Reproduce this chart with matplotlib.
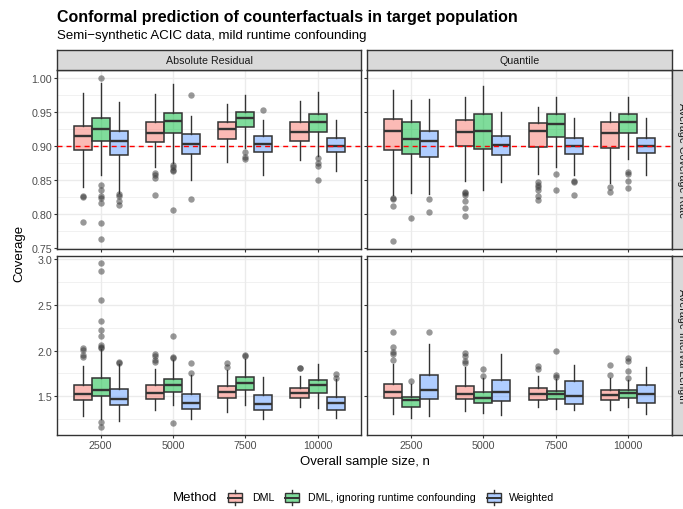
import matplotlib
matplotlib.use('Agg')
import matplotlib.pyplot as plt
from matplotlib.patches import Rectangle
from matplotlib.lines import Line2D

plt.rcParams['font.family'] = ['Liberation Sans', 'DejaVu Sans']

sizes = ['2500', '5000', '7500', '10000']
methods = ['DML', 'DML, ignoring runtime confounding', 'Weighted']
colors = ['#F8766D', '#00BA38', '#619CFF']

# each tuple: (whisker low, q1, median, q3, whisker high), one per sample size
ar_cov_dml = [(0.840, 0.894, 0.915, 0.930, 0.978), (0.869, 0.906, 0.919, 0.936, 0.977),
              (0.877, 0.910, 0.925, 0.936, 0.962), (0.880, 0.907, 0.921, 0.935, 0.966)]
ar_cov_dml_out = [[0.827, 0.826, 0.789], [0.860, 0.858, 0.853, 0.828], [], []]
ar_cov_ign = [(0.857, 0.907, 0.925, 0.942, 0.993), (0.876, 0.919, 0.937, 0.949, 0.991),
              (0.897, 0.928, 0.941, 0.951, 0.975), (0.886, 0.921, 0.936, 0.947, 0.980)]
ar_cov_ign_out = [[1.0, 0.843, 0.836, 0.827, 0.824, 0.817, 0.787, 0.763],
                  [0.872, 0.870, 0.865, 0.863, 0.806], [0.892, 0.884, 0.881],
                  [0.883, 0.875, 0.871, 0.851]]
ar_cov_wt = [(0.832, 0.887, 0.908, 0.923, 0.965), (0.851, 0.888, 0.904, 0.918, 0.944),
             (0.857, 0.892, 0.903, 0.915, 0.938), (0.863, 0.891, 0.901, 0.912, 0.939)]
ar_cov_wt_out = [[0.830, 0.827, 0.820, 0.813], [0.975, 0.822], [0.953], []]

q_cov_dml = [(0.828, 0.894, 0.923, 0.940, 0.983), (0.849, 0.900, 0.921, 0.938, 0.973),
             (0.859, 0.899, 0.923, 0.934, 0.957), (0.846, 0.898, 0.919, 0.936, 0.951)]
q_cov_dml_out = [[0.824, 0.822, 0.812, 0.761], [0.833, 0.831, 0.829, 0.820, 0.809, 0.798],
                 [0.847, 0.843, 0.840, 0.836, 0.827, 0.821], [0.840, 0.833]]
q_cov_ign = [(0.832, 0.889, 0.911, 0.935, 0.968), (0.836, 0.896, 0.923, 0.947, 0.989),
             (0.869, 0.913, 0.932, 0.948, 0.972), (0.881, 0.919, 0.935, 0.948, 0.973)]
q_cov_ign_out = [[0.795], [], [0.859, 0.836], [0.862, 0.859, 0.849, 0.838]]
q_cov_wt = [(0.830, 0.884, 0.907, 0.923, 0.969), (0.848, 0.887, 0.902, 0.915, 0.951),
            (0.857, 0.888, 0.901, 0.912, 0.941), (0.858, 0.890, 0.900, 0.912, 0.942)]
q_cov_wt_out = [[0.822, 0.803], [], [0.849, 0.847, 0.828], []]

ar_len_dml = [(1.282, 1.456, 1.529, 1.627, 1.830), (1.355, 1.467, 1.536, 1.627, 1.801),
              (1.336, 1.482, 1.547, 1.612, 1.783), (1.384, 1.485, 1.536, 1.591, 1.718)]
ar_len_dml_out = [[2.030, 2.008, 1.947, 1.928], [1.965, 1.939, 1.899, 1.874],
                  [1.867, 1.819], [1.809, 1.805]]
ar_len_ign = [(1.256, 1.500, 1.565, 1.700, 2.019), (1.402, 1.547, 1.620, 1.692, 1.900),
              (1.402, 1.565, 1.645, 1.711, 1.910), (1.373, 1.536, 1.620, 1.681, 1.856)]
ar_len_ign_out = [[2.949, 2.866, 2.553, 2.324, 2.219, 2.157, 2.056, 2.037, 2.027, 1.220, 1.166],
                  [2.157, 1.928, 1.920, 1.213], [1.947, 1.940], []]
ar_len_wt = [(1.231, 1.402, 1.474, 1.583, 1.850), (1.249, 1.365, 1.427, 1.522, 1.729),
             (1.249, 1.347, 1.413, 1.511, 1.710), (1.264, 1.355, 1.427, 1.493, 1.690)]
ar_len_wt_out = [[1.874, 1.866], [1.867, 1.754], [], [1.747, 1.700]]

q_len_dml = [(1.304, 1.485, 1.547, 1.634, 1.850), (1.340, 1.467, 1.522, 1.612, 1.819),
             (1.384, 1.456, 1.522, 1.591, 1.720), (1.355, 1.463, 1.511, 1.565, 1.700)]
q_len_dml_out = [[2.201, 2.037, 1.983, 1.965, 1.892], [1.976, 1.939, 1.881, 1.867],
                 [1.830, 1.794], [1.838, 1.736]]
q_len_ign = [(1.264, 1.384, 1.456, 1.493, 1.640), (1.322, 1.431, 1.485, 1.547, 1.700),
             (1.358, 1.474, 1.522, 1.554, 1.690), (1.384, 1.485, 1.536, 1.565, 1.680)]
q_len_ign_out = [[1.663], [1.794, 1.721], [1.990, 1.729, 1.711], [1.918, 1.881, 1.772, 1.703]]
q_len_wt = [(1.285, 1.474, 1.565, 1.729, 2.074), (1.293, 1.449, 1.547, 1.681, 1.965),
            (1.355, 1.413, 1.500, 1.663, 1.845), (1.311, 1.431, 1.522, 1.630, 1.819)]
q_len_wt_out = [[2.201], [], [], []]

col_labels = ['Absolute Residual', 'Quantile']
row_labels = ['Average Coverage Rate', 'Average Interval Length']
target_coverage = 0.9

W, H = 683, 510
fig = plt.figure(figsize=(W / 100, H / 100), dpi=100)


def px(x0, y0, x1, y1):
    return [x0 / W, 1 - y1 / H, (x1 - x0) / W, (y1 - y0) / H]


def stats(boxes, outs):
    res = []
    for (lo, q1, med, q3, hi), fl in zip(boxes, outs):
        res.append(dict(whislo=lo, q1=q1, med=med, q3=q3, whishi=hi, fliers=fl))
    return res


panel_data = [
    [[(ar_cov_dml, ar_cov_dml_out), (ar_cov_ign, ar_cov_ign_out), (ar_cov_wt, ar_cov_wt_out)],
     [(q_cov_dml, q_cov_dml_out), (q_cov_ign, q_cov_ign_out), (q_cov_wt, q_cov_wt_out)]],
    [[(ar_len_dml, ar_len_dml_out), (ar_len_ign, ar_len_ign_out), (ar_len_wt, ar_len_wt_out)],
     [(q_len_dml, q_len_dml_out), (q_len_ign, q_len_ign_out), (q_len_wt, q_len_wt_out)]],
]

col_x = [(57.3, 361.0), (367.3, 671.7)]
row_y = [(71.0, 250.0), (257.0, 436.0)]
ylims = [(0.749, 1.012), (1.08, 3.03)]
yticks = [[0.75, 0.80, 0.85, 0.90, 0.95, 1.00], [1.5, 2.0, 2.5, 3.0]]
yminor = [[0.775, 0.825, 0.875, 0.925, 0.975], [1.25, 1.75, 2.25, 2.75]]
yfmt = ['{:.2f}', '{:.1f}']
edge = '#333333'
grid = '#EBEBEB'
small = 7.7
big = 9.5

pos = list(range(1, len(sizes) + 1))
offsets = [-0.25, 0.0, 0.25]

for r in range(2):
    for c in range(2):
        x0, x1 = col_x[c]
        y0, y1 = row_y[r]
        ax = fig.add_axes(px(x0, y0, x1, y1))
        ax.set_xlim(0.4, 4.6)
        ax.set_ylim(*ylims[r])
        for v in yminor[r]:
            ax.axhline(v, color=grid, lw=0.5, zorder=0)
        for v in yticks[r]:
            ax.axhline(v, color=grid, lw=1.0, zorder=0)
        for p in pos:
            ax.axvline(p, color=grid, lw=1.0, zorder=0)
        for m in range(3):
            boxes, outs = panel_data[r][c][m]
            bp = ax.bxp(stats(boxes, outs), positions=[p + offsets[m] for p in pos],
                        widths=0.25, patch_artist=True, showcaps=False,
                        boxprops=dict(edgecolor=edge, linewidth=1.1),
                        medianprops=dict(color=edge, linewidth=1.7, solid_capstyle='butt'),
                        whiskerprops=dict(color=edge, linewidth=1.0),
                        flierprops=dict(marker='o', markerfacecolor='#333333',
                                        markeredgecolor='none', alpha=0.5, markersize=4.6),
                        manage_ticks=False)
            for b in bp['boxes']:
                b.set_facecolor(matplotlib.colors.to_rgba(colors[m], 0.5))
                b.set_zorder(2)
        if r == 0:
            ax.axhline(target_coverage, color='red', lw=1.0, dashes=(3.6, 2.9), zorder=5)
        ax.set_yticks(yticks[r])
        ax.set_xticks(pos)
        if c == 0:
            ax.set_yticklabels([yfmt[r].format(v) for v in yticks[r]])
        else:
            ax.tick_params(axis='y', length=0, labelleft=False)
        if r == 1:
            ax.set_xticklabels(sizes)
        else:
            ax.tick_params(axis='x', length=0, labelbottom=False)
        ax.tick_params(labelsize=small, labelcolor='#4D4D4D', color=edge, width=0.8,
                       length=2.2, pad=1.5)
        for s in ax.spines.values():
            s.set_color(edge)
            s.set_linewidth(1.0)

        # strips
        if r == 0:
            sax = fig.add_axes(px(x0, 50.7, x1, y0))
            sax.set_facecolor('#D9D9D9')
            sax.set_xticks([])
            sax.set_yticks([])
            for s in sax.spines.values():
                s.set_color(edge)
                s.set_linewidth(1.0)
            sax.text(0.5, 0.5, col_labels[c], ha='center', va='center',
                     fontsize=small, color='#1A1A1A', transform=sax.transAxes)
        if c == 1:
            sax = fig.add_axes(px(671.7, y0, 691.7, y1))
            sax.set_facecolor('#D9D9D9')
            sax.set_xticks([])
            sax.set_yticks([])
            for s in sax.spines.values():
                s.set_color(edge)
                s.set_linewidth(1.0)
            sax.text(0.5, 0.5, row_labels[r], ha='center', va='center', rotation=270,
                     fontsize=small, color='#1A1A1A', transform=sax.transAxes)

# overlay for titles and legend in pixel coordinates
ov = fig.add_axes([0, 0, 1, 1], facecolor='none')
ov.set_xlim(0, W)
ov.set_ylim(H, 0)
ov.axis('off')

ov.text(57, 22.0, 'Conformal prediction of counterfactuals in target population',
        fontsize=11.5, fontweight='bold', ha='left', va='baseline')
ov.text(57, 39.5, 'Semi\u2212synthetic ACIC data, mild runtime confounding',
        fontsize=big, ha='left', va='baseline')
ov.text(364.5, 462.5, 'Overall sample size, n', fontsize=big, ha='center', va='center')
ov.text(19, 253.5, 'Coverage', fontsize=big, ha='center', va='center', rotation=90)

# legend
ly = 498.5
ov.text(173, ly, 'Method', fontsize=big, ha='left', va='center')
key_x = [226, 283, 485]
lab_x = [252, 308, 509]
for m in range(3):
    kx = key_x[m]
    ov.add_patch(Rectangle((kx + 1.5, ly - 4.8), 14, 9.6,
                           facecolor=matplotlib.colors.to_rgba(colors[m], 0.5),
                           edgecolor=edge, linewidth=1.0))
    ov.add_line(Line2D([kx + 1.5, kx + 15.5], [ly, ly], color=edge, lw=1.4))
    ov.add_line(Line2D([kx + 8.5, kx + 8.5], [ly - 7.5, ly - 4.8], color=edge, lw=1.0))
    ov.add_line(Line2D([kx + 8.5, kx + 8.5], [ly + 4.8, ly + 7.5], color=edge, lw=1.0))
    ov.text(lab_x[m], ly, methods[m], fontsize=small, ha='left', va='center')

fig.savefig('out.png', dpi=100)
